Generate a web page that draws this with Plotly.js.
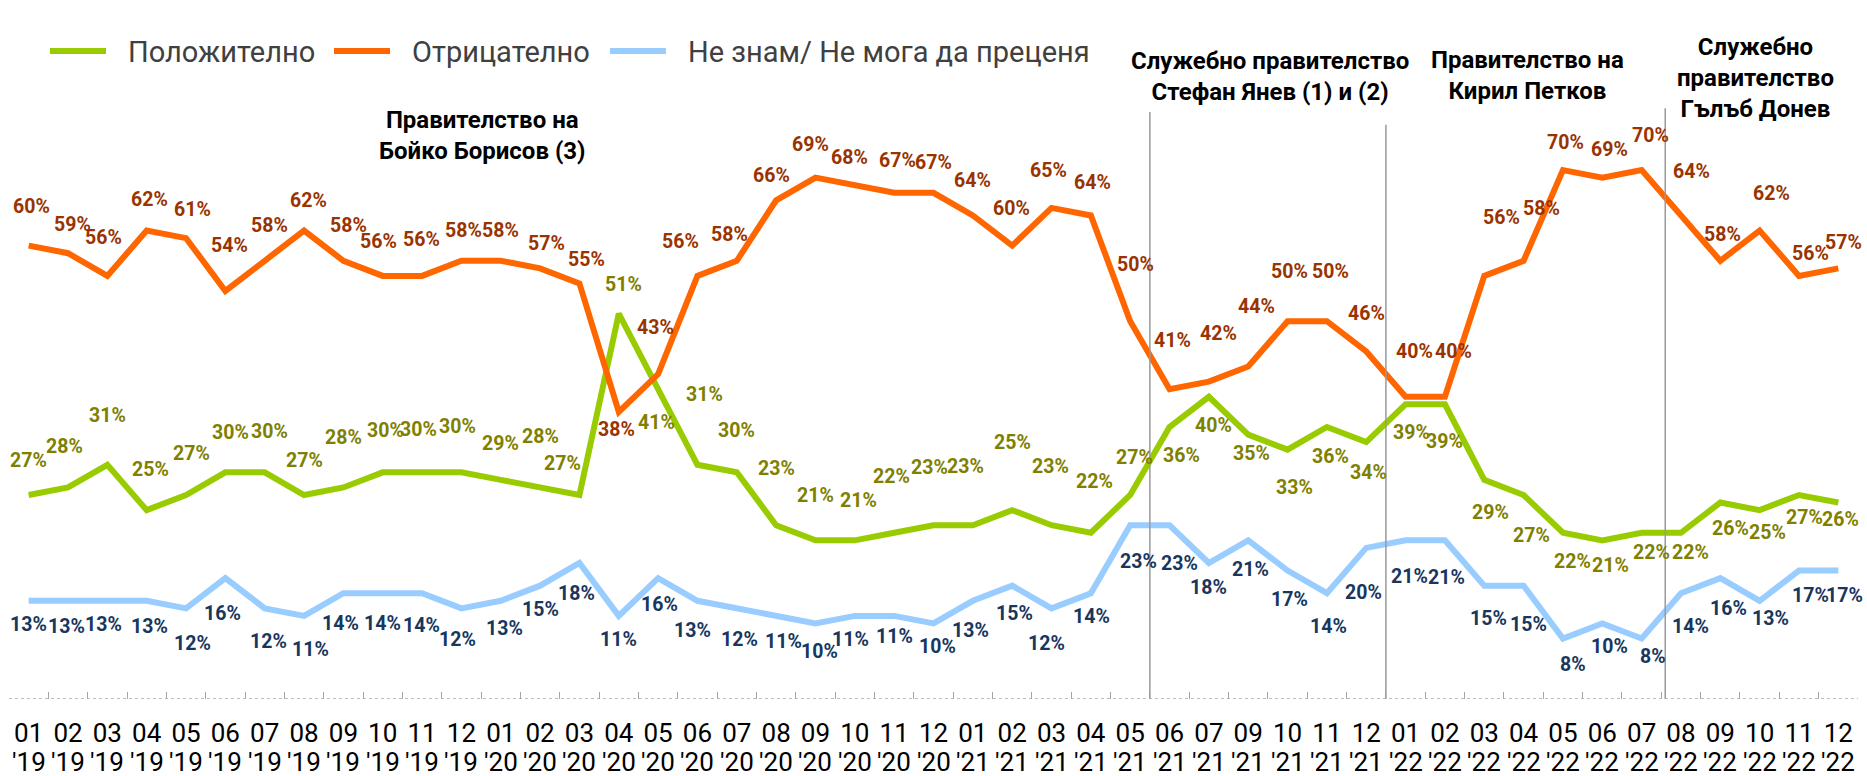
<!DOCTYPE html>
<html><head><meta charset="utf-8">
<script src="https://cdn.plot.ly/plotly-3.0.1.min.js"></script>
<style>html,body{margin:0;padding:0;background:#fff;overflow:hidden}#chart{width:1867px;height:776px}</style>
</head><body><div id="chart"></div>
<script>
// ---------------- DATA ----------------
const monthLabels = ["01","02","03","04","05","06","07","08","09","10","11","12",
  "01","02","03","04","05","06","07","08","09","10","11","12",
  "01","02","03","04","05","06","07","09","10","11","12",
  "01","02","03","04","05","06","07","08","09","10","11","12"];
const yearLabels = ["'19","'19","'19","'19","'19","'19","'19","'19","'19","'19","'19","'19",
  "'20","'20","'20","'20","'20","'20","'20","'20","'20","'20","'20","'20",
  "'21","'21","'21","'21","'21","'21","'21","'21","'21","'21","'21",
  "'22","'22","'22","'22","'22","'22","'22","'22","'22","'22","'22","'22"];
const positive = [27,28,31,25,27,30,30,27,28,30,30,30,
  29,28,27,51,41,31,30,23,21,21,22,23,
  23,25,23,22,27,36,40,35,33,36,34,
  39,39,29,27,22,21,22,22,26,25,27,26];
const negative = [60,59,56,62,61,54,58,62,58,56,56,58,
  58,57,55,38,43,56,58,66,69,68,67,67,
  64,60,65,64,50,41,42,44,50,50,46,
  40,40,56,58,70,69,70,64,58,62,56,57];
const dontKnow = [13,13,13,13,12,16,12,11,14,14,14,12,
  13,15,18,11,16,13,12,11,10,11,11,10,
  13,15,12,14,23,23,18,21,17,14,20,
  21,21,15,15,8,10,8,14,16,13,17,17];
const seriesNames = ["Положително","Отрицателно","Не знам/ Не мога да преценя"];
const periodTitles = ["Правителство на<br>Бойко Борисов (3)",
  "Служебно правителство<br>Стефан Янев (1) и (2)",
  "Правителство на<br>Кирил Петков",
  "Служебно<br>правителство<br>Гълъб Донев"];
const periodStarts = ["06 '21","01 '22","08 '22"];

const categories = monthLabels.map((m,i)=> m+" "+yearLabels[i]);

// ---------------- STYLE ----------------
const W=1867, H=776, ML=9, MR=9, MT=19, MB=77;
const plotW=W-ML-MR, plotH=H-MT-MB;
const pxX = px => (px-ML)/plotW;
const pxY = py => (H-MB-py)/plotH;
const FONT = "Roboto, Liberation Sans, sans-serif";
const colors = {pos:"#99CC00", neg:"#FF6600", dk:"#99CCFF"};
const labelColors = {pos:"#808000", neg:"#993300", dk:"#17375E"};

// label offsets [dx, dy] in px (dy positive = down)
const offNeg = [[3,-39],[4,-29],[-4,-38],[3,-31],[6,-29],[4,-46],[5,-35],[4,-30],[5,-35],[-4,-34],[-1,-36],[2,-30],
 [0,-30],[6,-25],[7,-24],[-2,18],[-3,-47],[-17,-34],[-7,-26],[-5,-25],[-5,-33],[-5,-28],[3,-32],[0,-30],
 [0,-35],[-1,-37],[-3,-37],[2,-33],[5,-57],[3,-49],[10,-48],[8,-60],[2,-50],[4,-50],[0,-38],
 [9,-45],[9,-45],[17,-58],[18,-52],[3,-28],[7,-28],[9,-35],[11,-44],[2,-26],[12,-37],[12,-22],[5,-26]];
const offPos = [[0,-35],[-4,-41],[0,-49],[4,-41],[5,-42],[5,-40],[5,-41],[0,-35],[0,-50],[3,-42],[-4,-43],[-4,-46],
 [0,-36],[0,-51],[-17,-32],[5,-29],[-2,33],[7,-70],[0,-42],[0,-57],[0,-45],[4,-40],[-3,-56],[-4,-58],
 [-7,-59],[0,-68],[-1,-59],[4,-51],[4,-38],[12,28],[5,29],[3,19],[7,38],[4,29],[2,30],
 [6,28],[0,37],[6,33],[8,40],[10,29],[8,25],[10,20],[10,20],[10,26],[8,22],[6,22],[2,17]];
const offDk = [[0,24],[-2,26],[-4,24],[3,26],[6,35],[-3,35],[4,33],[6,34],[-3,30],[0,30],[-1,32],[-4,31],
 [4,28],[0,24],[-3,30],[0,24],[1,26],[-5,30],[3,31],[7,26],[4,28],[-4,24],[0,21],[4,23],
 [-2,30],[2,28],[-5,35],[1,23],[8,36],[10,38],[0,24],[2,29],[2,29],[2,33],[-3,45],
 [4,36],[2,37],[4,33],[5,39],[10,26],[7,23],[11,18],[10,33],[8,30],[11,18],[12,25],[6,25]];

const traces = [
  {name:seriesNames[0], x:categories, y:positive, color:colors.pos},
  {name:seriesNames[1], x:categories, y:negative, color:colors.neg},
  {name:seriesNames[2], x:categories, y:dontKnow, color:colors.dk}
].map(s=>({type:"scatter", mode:"lines", name:s.name, x:s.x, y:s.y,
  line:{color:s.color, width:6}, showlegend:false, hoverinfo:"x+y+name"}));

const annotations = [];
function addLabels(vals, offs, color){
  vals.forEach((v,i)=>{
    annotations.push({xref:"x", yref:"y", x:categories[i], y:v, text:v+"%", showarrow:false,
      xanchor:"center", yanchor:"middle", xshift:offs[i][0], yshift:-offs[i][1],
      font:{family:FONT, size:19.5, color:color, weight:"bold"}});
  });
}
addLabels(negative, offNeg, labelColors.neg);
addLabels(positive, offPos, labelColors.pos);
addLabels(dontKnow, offDk, labelColors.dk);

// year line of x labels
yearLabels.forEach((yl,i)=>{
  annotations.push({xref:"x", yref:"paper", x:categories[i], y:0, yshift:-63, text:yl, showarrow:false,
    xanchor:"center", yanchor:"middle", font:{family:FONT, size:26, color:"#000"}});
});

// period titles
const titlePos = [[482,135.5],[1269.5,76.5],[1527,75.5],[1755,78]];
periodTitles.forEach((t,i)=>{
  annotations.push({xref:"paper", yref:"paper", x:pxX(titlePos[i][0]), y:pxY(titlePos[i][1]), text:t,
    showarrow:false, xanchor:"center", yanchor:"middle",
    font:{family:FONT, size:24, color:"#000", weight:"bold"}});
});

// manual legend
const legendItems = [[50,106,126],[334,390,410],[610,666,686]];
const legendY = 51;
const shapes = [];
legendItems.forEach((li,i)=>{
  shapes.push({type:"line", xref:"paper", yref:"paper", x0:pxX(li[0]), x1:pxX(li[1]), y0:pxY(legendY), y1:pxY(legendY),
    line:{color:[colors.pos,colors.neg,colors.dk][i], width:6}});
  annotations.push({xref:"paper", yref:"paper", x:pxX(li[2]), y:pxY(legendY+1), text:seriesNames[i], showarrow:false,
    xanchor:"left", yanchor:"middle", font:{family:FONT, size:29, color:"#404040", weight:400}});
});

// separators
const sepTops = [77.7, 76, 78.2];
const sepBottoms = [-0.5, -1.0, -0.1];
const sepShift = [-0.5, -0.5, -0.4];
periodStarts.forEach((c,i)=>{
  const xi = categories.indexOf(c) + sepShift[i];
  shapes.push({type:"line", xref:"x", yref:"y", x0:xi, x1:xi, y0:sepBottoms[i], y1:sepTops[i],
    line:{color:"#999999", width:1.5}});
});
// dotted baseline
shapes.push({type:"line", xref:"paper", yref:"y", x0:0, x1:1, y0:0, y1:0, line:{color:"#a6a6a6", width:1.5, dash:"dot"}});

const layout = {
  width:W, height:H, margin:{l:ML, r:MR, t:MT, b:MB}, paper_bgcolor:"#fff", plot_bgcolor:"#fff",
  showlegend:false,
  xaxis:{type:"category", categoryorder:"array", categoryarray:categories, range:[-0.5, categories.length-0.5],
    tickmode:"array", tickvals:categories, ticktext:monthLabels, ticks:"inside", tickson:"boundaries",
    ticklen:7, tickwidth:1, tickcolor:"#a6a6a6", showline:false, showgrid:false, zeroline:false, tickangle:0,
    tickfont:{family:FONT, size:26, color:"#000"}, ticklabelstandoff:16},
  yaxis:{range:[0,90], showticklabels:false, showgrid:false, zeroline:false, showline:false, ticks:""},
  annotations:annotations, shapes:shapes,
  font:{family:FONT}
};
Plotly.newPlot("chart", traces, layout, {displayModeBar:false, staticPlot:true});
</script></body></html>
